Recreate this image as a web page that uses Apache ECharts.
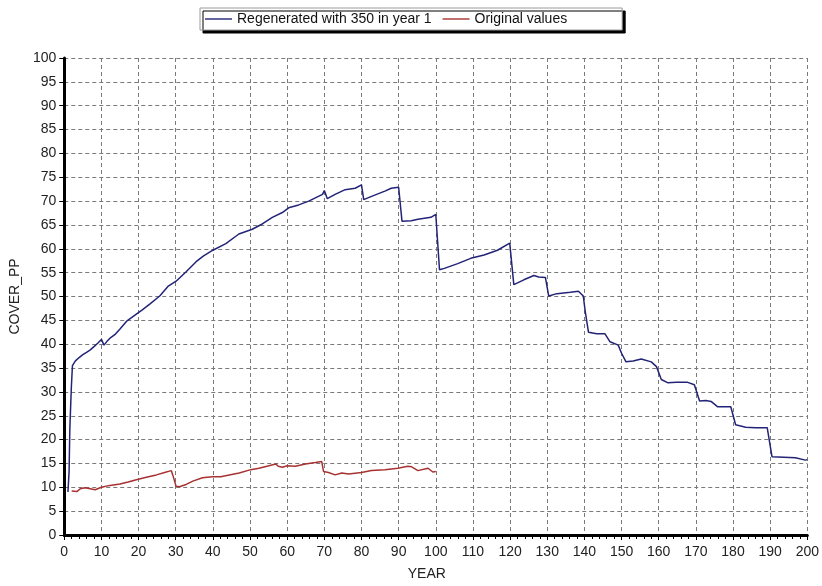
<!DOCTYPE html>
<html>
<head>
<meta charset="utf-8">
<script src="https://cdn.jsdelivr.net/npm/echarts@6/dist/echarts.min.js"></script>
<style>
html,body{margin:0;padding:0;background:#fff;}
#chart{width:822px;height:586px;}
</style>
</head>
<body>
<div id="chart"></div>
<script>
var regenYears = [1, 1.3, 1.5, 1.9, 2.2, 3, 4, 5, 6, 7, 8, 9, 10, 10.7, 11.5, 12.5, 13.6, 15, 16.9, 19.4, 21, 23, 25.7, 27.9, 30.1, 32.8, 35.5, 37.5, 40, 43.5, 47, 50.6, 53.3, 56, 58.7, 60.4, 63.1, 65.8, 69.5, 70, 70.8, 72.9, 75.6, 78.3, 80, 80.6, 82.7, 86.3, 88, 90, 90.9, 93.4, 95.2, 98.7, 100, 101, 102.3, 105.9, 109.4, 113, 116.6, 119.9, 121, 123.7, 126.4, 127.7, 129.5, 130.4, 132.6, 136.2, 138.4, 139.7, 140.2, 141.1, 143.3, 145.5, 146.9, 149.1, 150, 151.2, 153.1, 155.3, 158, 159.4, 160.7, 162.5, 164.7, 167.8, 169.6, 171, 172.7, 174.1, 175.8, 179.4, 180.7, 183.4, 186.1, 189.2, 190.5, 196.8, 199.5, 200];
var regenValues = [9.0, 13.3, 22.2, 30.8, 35.5, 36.5, 37.2, 37.8, 38.3, 38.8, 39.5, 40.2, 41.0, 39.8, 40.6, 41.4, 42.0, 43.2, 44.9, 46.3, 47.2, 48.4, 50.1, 52.1, 53.2, 55.2, 57.3, 58.5, 59.7, 61.1, 63.1, 64.1, 65.2, 66.6, 67.6, 68.6, 69.2, 70.0, 71.4, 72.2, 70.5, 71.4, 72.4, 72.7, 73.4, 70.3, 71.0, 72.1, 72.7, 72.9, 65.8, 65.9, 66.2, 66.6, 67.2, 55.6, 55.9, 56.9, 58.0, 58.7, 59.7, 61.2, 52.5, 53.5, 54.4, 54.1, 54.0, 50.1, 50.6, 50.9, 51.1, 50.1, 47.0, 42.5, 42.2, 42.2, 40.5, 39.8, 38.1, 36.3, 36.5, 36.9, 36.3, 35.3, 32.6, 31.9, 32.0, 32.0, 31.5, 28.1, 28.2, 28.0, 26.9, 26.9, 23.1, 22.6, 22.5, 22.5, 16.4, 16.2, 15.7, 15.8];

var origYears = [2, 3.4, 4.3, 5.6, 7, 8.3, 8.7, 10, 12.3, 15, 17.2, 19.4, 22.1, 24.8, 27, 28.8, 29.2, 30.1, 31, 32.8, 34.6, 37.2, 39.9, 42.1, 44.4, 47.1, 50.2, 52.4, 55.1, 56.9, 57.6, 58.7, 60, 62.2, 64.9, 67.6, 69.3, 69.8, 71.1, 72.9, 74.7, 76.5, 80, 82.7, 86.3, 89.8, 92.5, 93.5, 95.2, 97.9, 99.2, 100];
var origValues = [9.2, 9.1, 9.7, 9.9, 9.7, 9.5, 9.9, 10.0, 10.4, 10.7, 11.1, 11.6, 12.1, 12.6, 13.1, 13.5, 12.6, 10.2, 10.1, 10.6, 11.3, 12.0, 12.2, 12.2, 12.6, 13.0, 13.7, 14.0, 14.5, 14.9, 14.4, 14.2, 14.5, 14.4, 14.9, 15.2, 15.4, 13.3, 13.1, 12.6, 13.0, 12.8, 13.1, 13.5, 13.7, 14.0, 14.4, 14.3, 13.5, 14.0, 13.2, 13.3];

var seriesNames = ['Regenerated with 350 in year 1', 'Original values'];
var seriesColors = ['#232378', '#a83232'];

function pairs(xs, ys) {
  var out = [];
  for (var i = 0; i < xs.length; i++) out.push([xs[i], ys[i]]);
  return out;
}

var FONT = "'Liberation Sans', Arial, sans-serif";
var chart = echarts.init(document.getElementById('chart'), null, {renderer: 'canvas'});
var gridLine = {show: true, lineStyle: {color: '#7a7a7a', type: [4, 3], width: 1}};
chart.setOption({
  animation: false,
  backgroundColor: '#fff',
  textStyle: {fontFamily: FONT},
  legend: {
    left: 200,
    top: 8,
    itemWidth: 27,
    itemHeight: 14,
    itemGap: 11,
    padding: [4, 55, 4, 5],
    backgroundColor: '#fff',
    borderColor: '#9a9a9a',
    borderWidth: 1,
    shadowColor: '#000',
    shadowBlur: 0,
    shadowOffsetX: 3,
    shadowOffsetY: 3,
    textStyle: {fontSize: 14, color: '#111', fontFamily: FONT},
    data: [
      {name: seriesNames[0], icon: 'path://M0,0h27v1.4h-27z'},
      {name: seriesNames[1], icon: 'path://M0,0h27v1.4h-27z'}
    ]
  },
  grid: {left: 64, right: 10, top: 58, bottom: 43},
  xAxis: {
    type: 'value', min: 0, max: 200, interval: 10,
    name: 'YEAR', nameLocation: 'middle', nameGap: 32,
    nameTextStyle: {fontSize: 14, color: '#222', fontFamily: FONT, padding: [0, 18, 0, 0]},
    axisLine: {show: true, onZero: false, lineStyle: {color: '#000', width: 3}},
    axisTick: {show: true, length: 5, lineStyle: {color: '#000', width: 1}},
    minorTick: {show: true, splitNumber: 5, length: 4, lineStyle: {color: '#000', width: 1}},
    axisLabel: {fontSize: 14, color: '#222', margin: 10, fontFamily: FONT},
    splitLine: gridLine
  },
  yAxis: {
    type: 'value', min: 0, max: 100, interval: 5,
    name: 'COVER_PP', nameLocation: 'middle', nameGap: 37,
    nameTextStyle: {fontSize: 14, color: '#222', fontFamily: FONT},
    axisLine: {show: true, onZero: false, lineStyle: {color: '#000', width: 3}},
    axisTick: {show: true, length: 5, lineStyle: {color: '#000', width: 1}},
    axisLabel: {fontSize: 14, color: '#222', margin: 8, fontFamily: FONT},
    splitLine: gridLine
  },
  series: [
    {
      name: seriesNames[0], type: 'line', showSymbol: false, symbol: 'none',
      data: pairs(regenYears, regenValues),
      itemStyle: {color: seriesColors[0]},
      lineStyle: {color: seriesColors[0], width: 1.5}, z: 3
    },
    {
      name: seriesNames[1], type: 'line', showSymbol: false, symbol: 'none',
      data: pairs(origYears, origValues),
      itemStyle: {color: seriesColors[1]},
      lineStyle: {color: seriesColors[1], width: 1.5}, z: 3
    }
  ]
});
</script>
</body>
</html>
